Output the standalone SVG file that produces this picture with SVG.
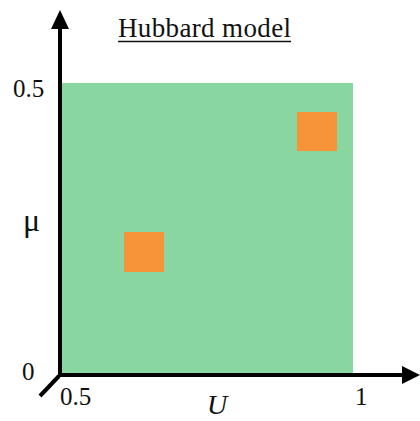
<svg xmlns="http://www.w3.org/2000/svg" width="420" height="421" viewBox="0 0 420 421">
<defs>
<style>
.t{font-family:"Liberation Serif","Times New Roman",serif;fill:#111;font-size:25px}
.ax{stroke:#000;stroke-width:4;fill:none}
.sq{fill:#F7943A}
</style>
</defs>
<rect x="0" y="0" width="420" height="421" fill="#fff"/>
<rect id="region" x="62" y="83" width="291" height="292" fill="#89D6A0"/>
<rect id="sq1" class="sq" x="124" y="232" width="40" height="40"/>
<rect id="sq2" class="sq" x="297" y="112" width="40" height="39"/>
<g id="axes">
<line class="ax" x1="60" y1="26" x2="60" y2="377"/>
<line class="ax" x1="58" y1="375" x2="404" y2="375"/>
<line class="ax" x1="59" y1="376" x2="40" y2="396"/>
<polygon points="60,10 51,29 69,29" fill="#000"/>
<polygon points="420,375 402,366 402,384" fill="#000"/>
</g>
<text class="t" x="118" y="37" textLength="173" style="font-size:27px">Hubbard model</text>
<line x1="118" y1="41.5" x2="291" y2="41.5" stroke="#111" stroke-width="1.5"/>
<text class="t" x="13" y="97">0.5</text>
<text class="t" x="23" y="231" style="font-size:32px">μ</text>
<text class="t" x="22" y="380">0</text>
<text class="t" x="60" y="405">0.5</text>
<text class="t" x="355" y="405">1</text>
<text class="t" x="207" y="414" style="font-size:28px;font-style:italic">U</text>
</svg>
